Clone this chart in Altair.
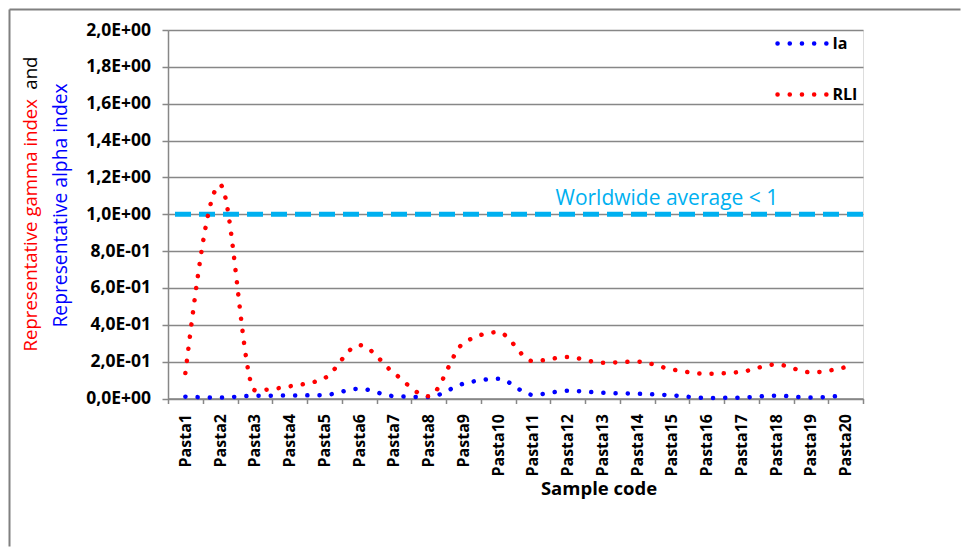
import altair as alt
import pandas as pd

# ---------------- data ----------------
samples = ["Pasta1", "Pasta2", "Pasta3", "Pasta4", "Pasta5", "Pasta6", "Pasta7",
           "Pasta8", "Pasta9", "Pasta10", "Pasta11", "Pasta12", "Pasta13", "Pasta14",
           "Pasta15", "Pasta16", "Pasta17", "Pasta18", "Pasta19", "Pasta20"]
ia_values = [0.010, 0.005, 0.015, 0.016, 0.019, 0.053, 0.013, 0.008, 0.080, 0.107,
             0.020, 0.042, 0.031, 0.026, 0.017, 0.003, 0.005, 0.015, 0.005, 0.017]
rli_values = [0.138, 1.160, 0.045, 0.066, 0.110, 0.290, 0.138, 0.012, 0.300, 0.360,
              0.203, 0.225, 0.194, 0.200, 0.158, 0.134, 0.145, 0.185, 0.142, 0.170]
series_names = ["Ia", "RLI"]
series_colors = ["#0000FF", "#FF0000"]

y_ticks = [0.0, 0.2, 0.4, 0.6, 0.8, 1.0, 1.2, 1.4, 1.6, 1.8, 2.0]
y_tick_labels = ["0,0E+00", "2,0E-01", "4,0E-01", "6,0E-01", "8,0E-01", "1,0E+00",
                 "1,2E+00", "1,4E+00", "1,6E+00", "1,8E+00", "2,0E+00"]

avg_value = 1.0
avg_label = "Worldwide average < 1"
x_title = "Sample code"
y_title_red = "Representative gamma index"
y_title_black = "and"
y_title_blue = "Representative alpha index"

FONT = "Open Sans"
GRID = "#878787"
DOTS = dict(strokeWidth=4.5, strokeDash=[0.1, 12.1], strokeCap="round")

rows = []
for s, v in zip(samples, ia_values):
    rows.append({"sample": s, "series": "Ia", "value": v})
for s, v in zip(samples, rli_values):
    rows.append({"sample": s, "series": "RLI", "value": v})
df = pd.DataFrame(rows)

label_expr = "[" + ",".join("'%s'" % t for t in y_tick_labels) + "][round(datum.value*5)]"

y_scale = alt.Scale(domain=[0, 2], nice=False, zero=True)
y_axis = alt.Axis(
    title=None, values=y_ticks, labelExpr=label_expr, labelFont=FONT,
    labelFontSize=17.5, labelFontWeight="bold", labelColor="black",
    labelPadding=11.5, tickSize=6, tickColor=GRID, tickWidth=1.5,
    domainColor=GRID, domainWidth=1.5, gridColor=GRID, gridWidth=1.5,
    labelOverlap=False,
)
x_enc = alt.X(
    "sample:N", sort=samples,
    scale=alt.Scale(type="band", paddingInner=0, paddingOuter=0),
    axis=alt.Axis(
        title=x_title, labelAngle=270, labelFont=FONT, labelFontSize=16,
        labelFontWeight="bold", labelColor="black", labelPadding=10,
        tickBand="extent", tickSize=5, tickColor=GRID, tickWidth=1.5,
        domainColor=GRID, domainWidth=1.5, grid=False,
        titleFont=FONT, titleFontSize=18.5, titleFontWeight="bold",
        titleColor="black", titleX=430.5, titleY=96, titleAlign="center",
        titleBaseline="alphabetic", labelOverlap=False,
    ),
)

lines = alt.Chart(df).mark_line(interpolate="monotone", **DOTS).encode(
    x=x_enc,
    y=alt.Y("value:Q", scale=y_scale, axis=y_axis),
    color=alt.Color("series:N",
                    scale=alt.Scale(domain=series_names, range=series_colors),
                    legend=None),
    order=alt.Order("series:N"),
)

avg_df = pd.DataFrame({"avg": [avg_value], "label": [avg_label]})
avg_rule = alt.Chart(avg_df).mark_rule(
    color="#00B0F0", strokeWidth=5, strokeDash=[16, 8]
).encode(y=alt.Y("avg:Q", scale=y_scale, axis=y_axis))
avg_text = alt.Chart(avg_df).mark_text(
    color="#00B0F0", font=FONT, fontSize=21, align="left", baseline="alphabetic"
).encode(x=alt.value(387.5), y=alt.value(174.5), text="label:N")

one = pd.DataFrame({"a": [0]})

# manual legend (symbols drawn with the same dotted style as the series)
legend_layers = []
for i, (name, col) in enumerate(zip(series_names, series_colors)):
    ly = 13.5 + 51 * i
    legend_layers.append(
        alt.Chart(one).mark_rule(color=col, **DOTS).encode(
            x=alt.value(609.5), x2=alt.value(658.5), y=alt.value(ly)))
    legend_layers.append(
        alt.Chart(one).mark_text(
            text=name, color="black", font=FONT, fontSize=16, fontWeight="bold",
            align="left", baseline="middle"
        ).encode(x=alt.value(664.5), y=alt.value(ly)))

TS_RED = 18.6
TS_BLUE = 19.3
ttl_red = alt.Chart(one).mark_text(
    text=y_title_red, color="#FF0000", font=FONT, fontSize=TS_RED, angle=270,
    align="left", baseline="middle"
).encode(x=alt.value(-137.5), y=alt.value(321.5))
ttl_and = alt.Chart(one).mark_text(
    text=y_title_black, color="black", font=FONT, fontSize=TS_RED, angle=270,
    align="right", baseline="middle"
).encode(x=alt.value(-137.5), y=alt.value(26.5))
ttl_blue = alt.Chart(one).mark_text(
    text=y_title_blue, color="#0000FF", font=FONT, fontSize=TS_BLUE, angle=270,
    align="center", baseline="middle"
).encode(x=alt.value(-107.5), y=alt.value(175.5))

frame_v = alt.Chart(one).mark_rule(color="#808080", strokeWidth=2).encode(
    x=alt.value(-158.5), y=alt.value(-20.5), y2=alt.value(516.5))
frame_h = alt.Chart(one).mark_rule(color="#808080", strokeWidth=2).encode(
    x=alt.value(-158.5), x2=alt.value(792.5), y=alt.value(-20.5))

chart = alt.layer(
    frame_v, frame_h, avg_rule, lines, avg_text, ttl_red, ttl_and, ttl_blue,
    *legend_layers
).properties(
    width=695, height=368.5, padding=0
).configure_view(stroke=None).configure(background="white")

chart.save("out.html", embed_options={"renderer": "svg", "actions": False})
